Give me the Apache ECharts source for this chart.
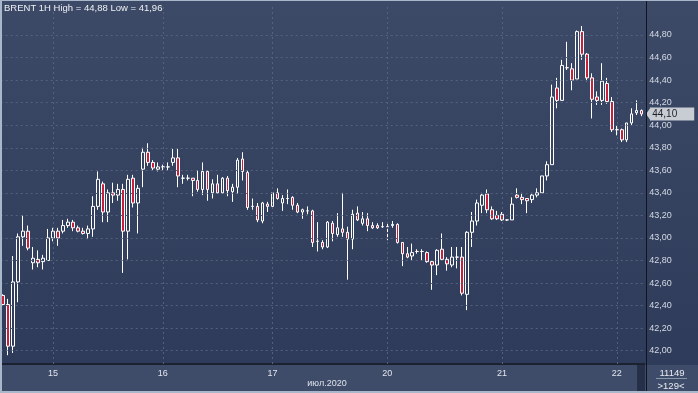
<!DOCTYPE html>
<html><head><meta charset="utf-8">
<script src="https://cdn.jsdelivr.net/npm/echarts@6/dist/echarts.min.js"></script>
<style>
html,body{margin:0;padding:0;}
#c{width:698px;height:393px;background:linear-gradient(to bottom,#3d4a67 0%,#34415f 50%,#2d3a59 100%);}
</style>
</head><body><div id="c"></div>
<script>
// Hourly candles, 129 visible bars (O, C, L, H)
const opens = [42.49,42.41,42.04,42.61,43.01,43.06,42.78,42.81,42.79,42.80,43.00,43.06,43.06,43.11,43.14,43.09,43.06,43.04,43.08,43.28,
43.48,43.23,43.40,43.38,43.43,43.06,43.53,43.31,43.61,43.76,43.67,43.61,43.63,43.63,43.67,43.71,43.53,43.53,43.53,43.51,
43.43,43.59,43.40,43.48,43.40,43.53,43.41,43.45,43.70,43.58,43.28,43.28,43.15,43.30,43.28,43.40,43.31,43.35,43.36,43.29,
43.23,43.24,43.24,42.97,42.96,42.92,43.13,43.03,43.08,43.05,42.99,43.22,43.13,43.17,43.11,43.11,43.10,43.10,43.11,43.12,
42.96,42.86,42.84,42.88,42.88,42.87,42.79,42.76,42.90,42.81,42.76,42.83,42.83,42.50,43.05,43.15,43.29,43.39,43.25,43.20,
43.21,43.16,43.16,43.38,43.36,43.35,43.34,43.38,43.40,43.55,43.65,44.33,44.22,44.51,44.50,44.41,44.83,44.63,44.42,44.25,
44.22,44.37,44.21,43.96,43.96,43.87,44.02,44.11,44.13];
const closes = [42.41,42.04,42.61,43.01,43.06,42.91,42.82,42.78,42.82,43.00,43.06,43.00,43.11,43.14,43.09,43.06,43.04,43.08,43.28,43.52,
43.23,43.40,43.38,43.43,43.06,43.52,43.31,43.44,43.76,43.67,43.62,43.63,43.63,43.63,43.71,43.55,43.53,43.53,43.51,43.43,
43.59,43.43,43.48,43.40,43.53,43.42,43.45,43.69,43.59,43.27,43.28,43.16,43.31,43.28,43.40,43.35,43.35,43.35,43.29,43.23,
43.25,43.24,42.96,42.97,42.92,43.14,43.04,43.09,43.05,42.99,43.21,43.16,43.17,43.11,43.09,43.09,43.10,43.10,43.12,42.96,
42.86,42.83,42.87,42.88,42.88,42.79,42.76,42.89,42.81,42.77,42.83,42.83,42.51,43.05,43.15,43.31,43.38,43.25,43.17,43.17,
43.16,43.16,43.30,43.36,43.34,43.33,43.38,43.40,43.55,43.65,44.25,44.22,44.53,44.51,44.40,44.83,44.63,44.42,44.23,44.22,
44.39,44.21,43.96,43.96,43.87,44.02,44.10,44.13,44.10];
const lows = [42.40,41.96,41.98,42.43,42.93,42.89,42.72,42.74,42.72,42.80,42.97,42.93,43.04,43.09,43.06,43.05,43.03,42.99,43.01,43.25,
43.14,43.14,43.31,43.33,42.69,42.81,43.27,43.04,43.45,43.64,43.60,43.59,43.60,43.60,43.64,43.45,43.48,43.51,43.37,43.41,
43.38,43.33,43.35,43.39,43.39,43.37,43.32,43.39,43.51,43.25,43.25,43.14,43.13,43.23,43.27,43.34,43.24,43.30,43.25,43.22,
43.17,43.21,42.92,42.88,42.90,42.91,42.97,43.01,43.01,42.63,42.90,43.15,43.11,43.06,43.08,43.08,43.09,42.98,43.09,42.95,
42.75,42.82,42.80,42.86,42.80,42.78,42.54,42.67,42.80,42.71,42.74,42.73,42.49,42.36,42.92,43.11,43.22,43.22,43.16,43.16,
43.15,43.15,43.16,43.35,43.30,43.22,43.31,43.36,43.40,43.51,43.65,44.15,44.22,44.49,44.31,44.41,44.58,44.39,44.06,44.18,
44.18,44.19,43.94,43.91,43.85,43.85,44.00,44.09,44.08];
const highs = [42.50,42.46,42.84,43.04,43.20,43.11,42.92,42.89,42.85,43.08,43.09,43.09,43.16,43.17,43.16,43.11,43.09,43.11,43.37,43.59,
43.50,43.43,43.49,43.48,43.48,43.56,43.56,43.47,43.80,43.84,43.69,43.67,43.65,43.67,43.79,43.79,43.56,43.56,43.53,43.60,
43.67,43.60,43.52,43.56,43.54,43.55,43.48,43.71,43.76,43.60,43.35,43.31,43.32,43.32,43.40,43.44,43.38,43.43,43.37,43.31,
43.26,43.28,43.25,43.14,42.98,43.15,43.15,43.22,43.40,43.10,43.25,43.28,43.23,43.22,43.14,43.13,43.14,43.13,43.15,43.13,
42.96,42.92,42.95,42.90,42.90,42.88,42.80,42.90,43.04,42.83,42.92,42.92,42.92,43.06,43.23,43.34,43.40,43.43,43.28,43.24,
43.23,43.16,43.36,43.44,43.40,43.35,43.40,43.44,43.55,43.68,44.36,44.42,44.58,44.74,44.55,44.84,44.88,44.64,44.46,44.30,
44.55,44.42,44.25,44.00,43.97,44.02,44.15,44.22,44.14];
const dayIndex = [10,32,54,77,100,123];
const dayLabels = ['15','16','17','20','21','22'];
const yTicks = [42.0,42.2,42.4,42.6,42.8,43.0,43.2,43.4,43.6,43.8,44.0,44.2,44.4,44.6,44.8];
const lastPrice = 44.10;
const titleText = 'BRENT 1H High = 44,88 Low = 41,96';
const monthText = 'июл.2020';

const cats = opens.map((_, i) => String(i));
const ohlc = opens.map((o, i) => [o, closes[i], lows[i], highs[i]]);
const fmt = v => v.toFixed(2).replace('.', ',');
const FONT = 'Liberation Sans, Arial, sans-serif';
const gridStyle = {color: '#55627e', type: [2, 3], width: 1};

const chart = echarts.init(document.getElementById('c'), null, {renderer: 'canvas'});
chart.setOption({
  animation: false,
  backgroundColor: 'transparent',
  grid: {left: 0.7, right: 53.8, top: 4, bottom: 29, containLabel: false},
  xAxis: {
    type: 'category', data: cats, boundaryGap: true,
    axisLine: {show: true, lineStyle: {color: '#1a2131', width: 2}},
    axisTick: {show: false},
    splitLine: {show: false},
    axisLabel: {
      interval: (idx) => dayIndex.indexOf(idx) >= 0,
      formatter: (v, idx) => { const k = dayIndex.indexOf(Number(v)); return k >= 0 ? dayLabels[k] : ''; },
      color: '#e2e6ee', fontSize: 9, fontFamily: FONT, margin: 5
    }
  },
  yAxis: {
    type: 'value', position: 'right', scale: true,
    min: 41.882, max: 45.075, splitNumber: 16, minInterval: 0.2, maxInterval: 0.2,
    axisLine: {show: false}, axisTick: {show: false}, splitLine: {show: false},
    axisLabel: {
      color: '#d4dae4', fontSize: 9, fontFamily: FONT, margin: 5,
      showMinLabel: false, showMaxLabel: false,
      formatter: v => (v < 41.99 || v > 44.81) ? '' : fmt(v)
    }
  },
  series: [
    {
      type: 'line', data: [], z: 1, silent: true,
      markLine: {
        silent: true, symbol: ['none', 'none'], label: {show: false},
        lineStyle: gridStyle, animation: false,
        data: yTicks.map(v => ({yAxis: v})).concat(dayIndex.map(i => ({xAxis: String(i)})))
      }
    },
    {
      type: 'line', data: [], z: 25, silent: true, clip: false,
      markLine: {
        silent: true, symbol: ['none', 'none'], animation: false,
        lineStyle: {color: 'rgba(0,0,0,0)', width: 1, type: 'solid'},
        label: {
          show: true, position: 'end', distance: 6, formatter: () => fmt(lastPrice),
          color: '#1c1f26', fontSize: 10, fontFamily: FONT,
          backgroundColor: '#c8ccd3', padding: [2, 17, 1, 2]
        },
        data: [{yAxis: lastPrice}]
      }
    },
    {
      type: 'candlestick', data: ohlc, z: 3, barWidth: 3,
      itemStyle: {
        color: 'rgba(0,0,0,0)', color0: '#c81f3d',
        borderColor: '#ffffff', borderColor0: '#ffffff', borderColorDoji: '#ffffff',
        borderWidth: 1
      }
    }
  ],
  graphic: [
    {type: 'rect', z: -5, shape: {x: 0, y: 365, width: 698, height: 27}, style: {fill: '#3e4c6a'}},
    {type: 'rect', z: -4, shape: {x: 637, y: 365, width: 8, height: 26}, style: {fill: '#252f47'}},
    {type: 'line', z: 20, shape: {x1: 646.5, y1: 0, x2: 646.5, y2: 391}, style: {stroke: '#10141c', lineWidth: 1}},
    {type: 'line', z: 20, shape: {x1: 656, y1: 378.5, x2: 687, y2: 378.5}, style: {stroke: '#8896ac', lineWidth: 1}},
    {type: 'polygon', z: 19, shape: {points: [[646, 114], [651, 107], [651, 121]]}, style: {fill: '#c8ccd3'}},
    {type: 'text', z: 20, x: 4, y: 3, style: {text: titleText, fill: '#eef0f4', font: '9.5px ' + FONT}},
    {type: 'text', z: 20, x: 327, y: 379, style: {text: monthText, fill: '#dfe3ea', font: '9px ' + FONT, textAlign: 'center'}},
    {type: 'text', z: 20, x: 672, y: 368, style: {text: '11149', fill: '#e8ebf0', font: '9.5px ' + FONT, textAlign: 'center'}},
    {type: 'text', z: 20, x: 671, y: 381, style: {text: '>129<', fill: '#e8ebf0', font: '9.5px ' + FONT, textAlign: 'center'}},
    {type: 'rect', z: 30, shape: {x: 0, y: 391, width: 698, height: 2}, style: {fill: '#a9b7ca'}},
    {type: 'rect', z: 30, shape: {x: 0, y: 0, width: 2, height: 393}, style: {fill: '#a9b7ca'}},
    {type: 'rect', z: 30, shape: {x: 0, y: 0, width: 698, height: 1}, style: {fill: '#a9b7ca'}}
  ]
});
</script>
</body></html>
